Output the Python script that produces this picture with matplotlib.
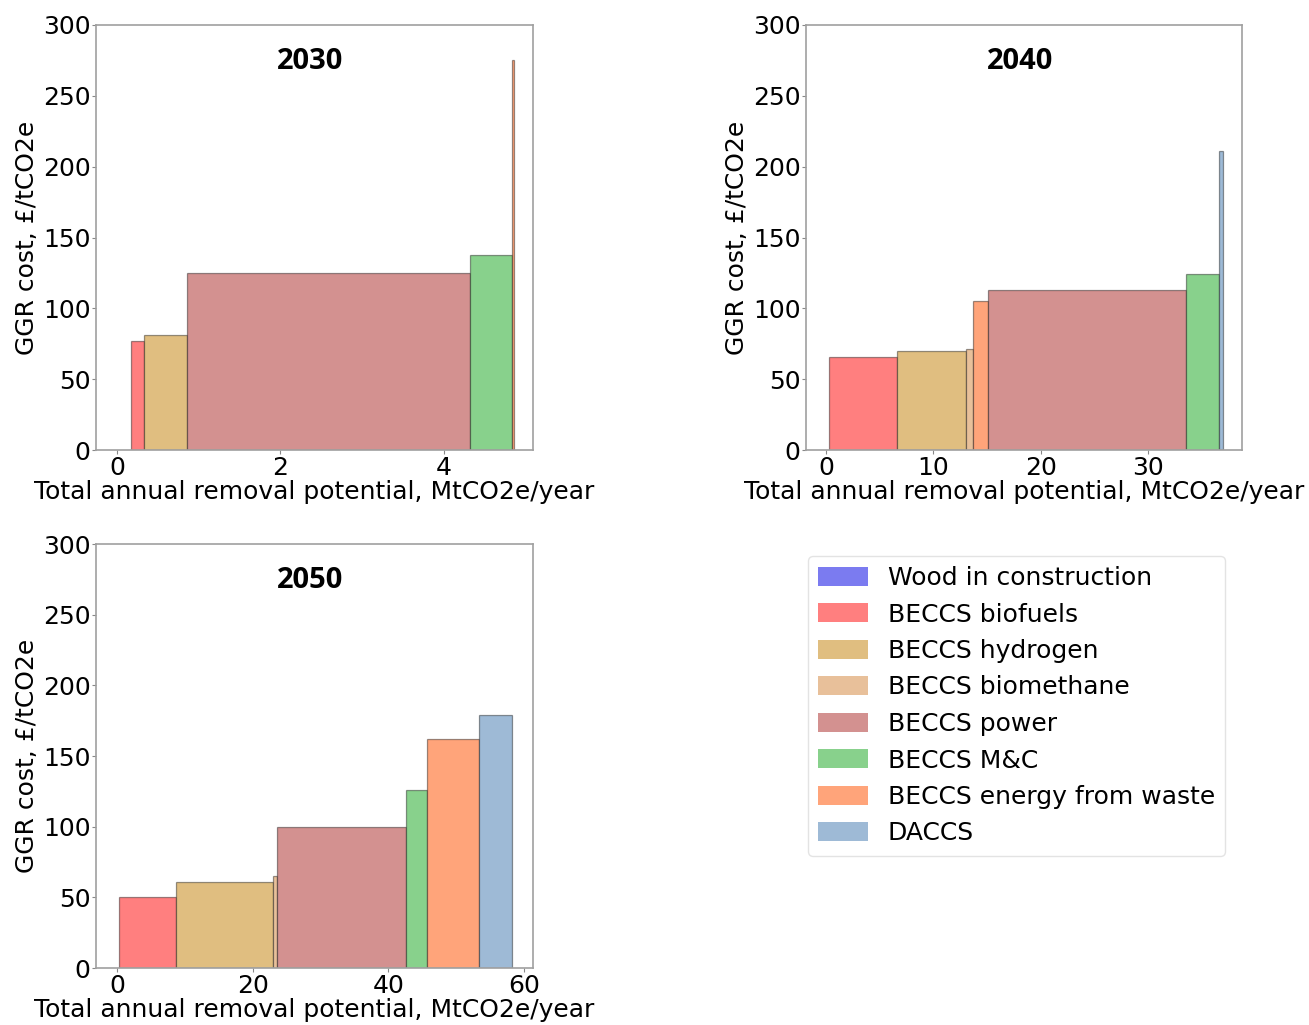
import matplotlib
matplotlib.use('Agg')
import matplotlib.pyplot as plt
from matplotlib.patches import Patch

categories = ['Wood in construction', 'BECCS biofuels', 'BECCS hydrogen',
              'BECCS biomethane', 'BECCS power', 'BECCS M&C',
              'BECCS energy from waste', 'DACCS']
colours = ['#7b7bf0', '#ff7f7f', '#e0be80', '#e8c09a', '#d39190',
           '#88d18c', '#ffa47a', '#9ebad6']

# each year: technology, start of step, end of step, cost
tech_2030 = ['BECCS biofuels', 'BECCS hydrogen', 'BECCS power', 'BECCS M&C',
             'BECCS energy from waste']
start_2030 = [0.17, 0.335, 0.86, 4.32, 4.836]
end_2030 = [0.335, 0.86, 4.32, 4.836, 4.862]
cost_2030 = [77, 81, 125, 138, 275]

tech_2040 = ['BECCS biofuels', 'BECCS hydrogen', 'BECCS biomethane',
             'BECCS energy from waste', 'BECCS power', 'BECCS M&C', 'DACCS']
start_2040 = [0.3, 6.6, 13.05, 13.67, 15.1, 33.55, 36.63]
end_2040 = [6.6, 13.05, 13.67, 15.1, 33.55, 36.63, 36.97]
cost_2040 = [66, 70, 71, 105, 113, 124, 211]

tech_2050 = ['BECCS biofuels', 'BECCS hydrogen', 'BECCS biomethane',
             'BECCS power', 'BECCS M&C', 'BECCS energy from waste', 'DACCS']
start_2050 = [0.3, 8.65, 22.97, 23.6, 42.66, 45.75, 53.35]
end_2050 = [8.65, 22.97, 23.6, 42.66, 45.75, 53.35, 58.27]
cost_2050 = [50, 61, 65, 100, 126, 162, 179]

years = ['2030', '2040', '2050']
W, H = 1309, 1025
FS = 18


def px_axes(fig, left, top, right, bottom):
    return fig.add_axes([left / W, 1 - bottom / H, (right - left) / W, (bottom - top) / H])


def draw_curve(ax, title, techs, starts, ends, costs, xlim, xticks):
    colour_of = dict(zip(categories, colours))
    widths = [e - s for s, e in zip(starts, ends)]
    ax.bar(starts, costs, width=widths, align='edge',
           color=[colour_of[t] for t in techs],
           edgecolor=(0, 0, 0, 0.4), linewidth=0.9)
    ax.set_xlim(*xlim)
    ax.set_ylim(0, 300)
    ax.set_xticks(xticks)
    ax.set_yticks(range(0, 301, 50))
    ax.tick_params(labelsize=FS, length=3, color='#888888', pad=1)
    for s in ax.spines.values():
        s.set_color('#a0a0a0')
        s.set_linewidth(1.2)
    ax.set_xlabel('Total annual removal potential, MtCO2e/year', fontsize=FS, labelpad=0)
    ax.set_ylabel('GGR cost, £/tCO2e', fontsize=FS, labelpad=3)
    ax.text(0.49, 0.915, title, transform=ax.transAxes, ha='center', va='center',
            fontsize=21, fontweight='bold', family='Open Sans')


fig = plt.figure(figsize=(W / 100, H / 100), dpi=100)

ax1 = px_axes(fig, 96, 25, 533, 450)
draw_curve(ax1, years[0], tech_2030, start_2030, end_2030, cost_2030, (-0.257, 5.09), [0, 2, 4])

ax2 = px_axes(fig, 806, 25, 1242, 450)
draw_curve(ax2, years[1], tech_2040, start_2040, end_2040, cost_2040, (-1.86, 38.77), [0, 10, 20, 30])

ax3 = px_axes(fig, 96, 544, 533, 968)
draw_curve(ax3, years[2], tech_2050, start_2050, end_2050, cost_2050, (-3.09, 61.3), [0, 20, 40, 60])

handles = [Patch(facecolor=c, edgecolor='none') for c in colours]
fig.legend(handles, categories, loc='upper left',
           bbox_to_anchor=(808 / W, 1 - 556 / H), borderaxespad=0, fontsize=FS,
           frameon=True, edgecolor='#dddddd', handlelength=2.0, handleheight=0.8,
           labelspacing=0.5, borderpad=0.4, handletextpad=0.8)

fig.savefig('out.png', dpi=100)
